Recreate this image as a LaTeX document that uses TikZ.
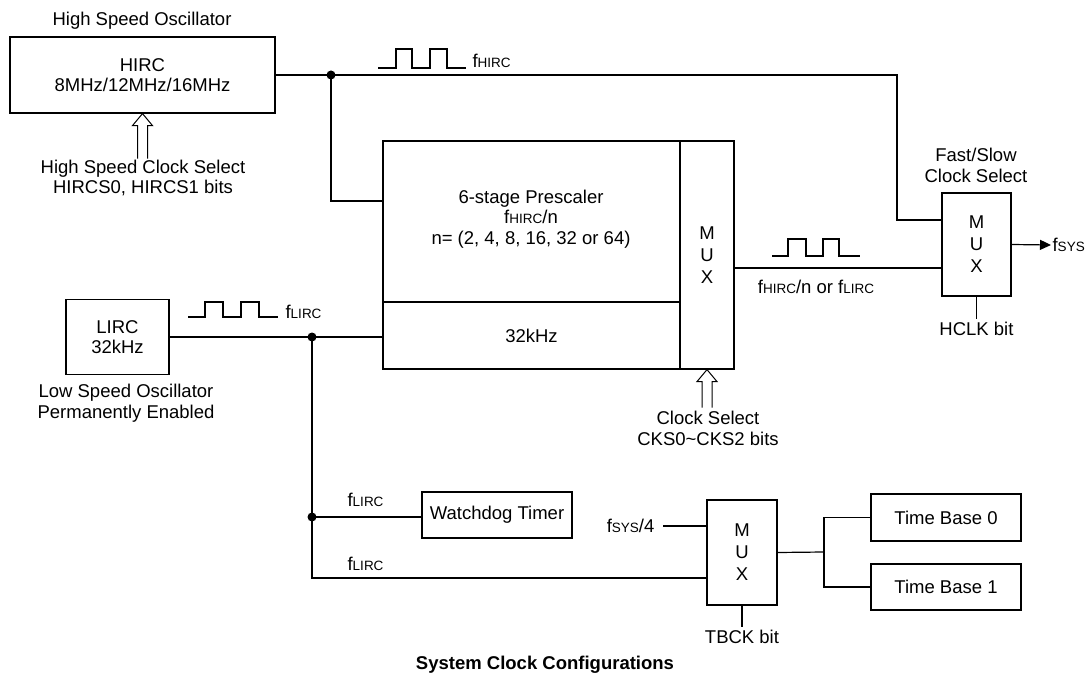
\documentclass[tikz,border=0pt]{standalone}
\usepackage{fontspec}
\setmainfont{Liberation Sans}
\usetikzlibrary{arrows.meta}
\newcommand\smallsub[1]{{\fontsize{13.5}{15}\selectfont #1}}
\begin{document}
\begin{tikzpicture}[x=1pt,y=-1pt,line width=1.2pt,
  font=\fontsize{18.5}{20.5}\selectfont,
  box/.style={draw,inner sep=0pt},
  muxtext/.style={align=center,font=\fontsize{18.5}{22}\selectfont},
  lbl/.style={inner sep=1pt},
  wave/.style={line width=1.1pt},
  pics/hollowup/.style={code={\draw[line width=1pt] (-5,#1) -- (-5,12) -- (-10,12) -- (0,0) -- (10,12) -- (5,12) -- (5,#1);}}]
\useasboundingbox (0,0) rectangle (1088,682);

% blocks
\node[box,minimum width=265,minimum height=76,align=center] (hirc) at (142.5,75) {HIRC\\8MHz/12MHz/16MHz};
\node[lbl] (hso) at (142,21) {High Speed Oscillator};
\pic at (hirc.south) {hollowup=45};
\node[lbl,align=center] (hscs) at (143,178) {High Speed Clock Select\\HIRCS0, HIRCS1 bits};

\node[box,minimum width=297,minimum height=161] (presc) at (531.5,221.5) {};
\node[lbl,align=center] (presct) at (531,219) {6-stage Prescaler\\f\smallsub{HIRC}/n\\n= (2, 4, 8, 16, 32 or 64)};
\node[box,minimum width=297,minimum height=67] (p32) at (531.5,335.5) {32kHz};
\node[box,minimum width=54,minimum height=228,muxtext] (bigmux) at (707,255) {M\\U\\X};
\pic at (bigmux.south) {hollowup=38};
\node[lbl,align=center] (cks) at (708,428.5) {Clock Select\\CKS0\textasciitilde CKS2 bits};

\node[box,minimum width=69,minimum height=103,muxtext] (fsmux) at (976.5,244.5) {M\\U\\X};
\node[lbl,align=center] (fss) at (976,165.5) {Fast/Slow\\Clock Select};
\node[lbl,anchor=west] (fsys) at (1051,245) {f\smallsub{SYS}};

\node[box,minimum width=103,minimum height=75,align=center] (lirc) at (117.5,337) {LIRC\\32kHz};
\node[lbl,align=center] (lso) at (126,403) {Low Speed Oscillator\\Permanently Enabled};

\node[box,minimum width=150,minimum height=46] (wdt) at (497,515) {Watchdog Timer};
\node[box,minimum width=70,minimum height=105,muxtext] (tbmux) at (742,552.5) {M\\U\\X};
\node[box,minimum width=150,minimum height=47] (tb0) at (946,517.5) {Time Base 0};
\node[box,minimum width=150,minimum height=46] (tb1) at (946,587) {Time Base 1};
\node[lbl,anchor=east] (fs4) at (656,526) {f\smallsub{SYS}/4};

% labels
\node[lbl,anchor=west] (fhirc) at (471,61) {f\smallsub{HIRC}};
\node[lbl,anchor=west] (flirc) at (284,312) {f\smallsub{LIRC}};
\node[lbl] (fmid) at (816,287) {f\smallsub{HIRC}/n or f\smallsub{LIRC}};
\node[lbl,anchor=west] (fl1) at (346,500) {f\smallsub{LIRC}};
\node[lbl,anchor=west] (fl2) at (346,564) {f\smallsub{LIRC}};
\node[lbl] (title) at (545,665) {\bfseries System Clock Configurations};

% junctions and bends
\coordinate (j1) at (331,75);
\coordinate (c1) at (897,75);
\coordinate (c2) at (897,220);
\coordinate (pin) at (383,201);
\coordinate (j2) at (312,337);
\coordinate (j3) at (312,517);
\coordinate (c3) at (312,578);
\coordinate (m2) at (734,268);
\coordinate (br) at (824,552);

% connectors
\draw (hirc.east) -- (j1) -- (c1) -- (c2) -- (c2 -| fsmux.west);
\draw (j1) |- (pin);
\draw (lirc.east) -- (lirc.east -| p32.west);
\draw (j2) -- (c3) -- (c3 -| tbmux.west);
\draw (j3) -- (j3 -| wdt.west);
\draw (m2) -- (m2 -| fsmux.west);
\draw[-{Triangle[length=11pt,width=10pt]}] (fsmux.east) -- (fsys.west);
\draw (fsmux.south) -- ++(0,22) node[lbl,below=2pt] (hclk) {HCLK bit};
\draw ([xshift=7pt]fs4.east) -- (fs4.east -| tbmux.west);
\draw (tbmux.south) -- ++(0,21) node[lbl,below=2pt] (tbck) {TBCK bit};
\draw (tbmux.east) -- (br);
\draw (tb0.west) -| (br);
\draw (tb1.west) -| (br);

\fill (j1) circle (4.5);
\fill (j2) circle (4.5);
\fill (j3) circle (4.5);

% waveforms
\draw[wave] (378,68) -- (396,68) -- (396,49) -- (412,49) -- (412,68) -- (430,68) -- (430,49) -- (447,49) -- (447,68) -- (466,68);
\draw[wave] (188,317) -- (205,317) -- (205,302) -- (223,302) -- (223,317) -- (241,317) -- (241,302) -- (259,302) -- (259,317) -- (278,317);
\draw[wave] (772,256) -- (788,256) -- (788,239) -- (806,239) -- (806,256) -- (823,256) -- (823,239) -- (839,239) -- (839,256) -- (860,256);
\end{tikzpicture}
\end{document}
